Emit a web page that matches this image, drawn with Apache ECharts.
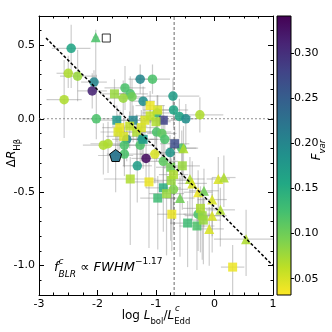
<!DOCTYPE html>
<html>
<head>
<meta charset="utf-8">
<script src="https://cdn.jsdelivr.net/npm/echarts@6/dist/echarts.min.js"></script>
<style>
  html, body { margin: 0; padding: 0; background: #fff; }
  #main { width: 332px; height: 332px; }
</style>
</head>
<body>
<div id="main"></div>
<script>
// each row: [log Lbol/LEdd, dR_Hb, Fvar, xErr, yErrDown, yErrUp]
const circlePts = [
  [-2.45, 0.48, 0.16, 0.33, 0.27, 0.16],
  [-2.50, 0.31, 0.07, 0.20, 0.10, 0.12],
  [-2.34, 0.29, 0.08, 0.30, 0.17, 0.18],
  [-2.06, 0.25, 0.20, 0.22, 0.08, 0.08],
  [-2.09, 0.19, 0.31, 0.25, 0.12, 0.12],
  [-2.57, 0.13, 0.07, 0.30, 0.26, 0.27],
  [-2.02, 0.00, 0.12, 0.25, 0.14, 0.30],
  [-1.27, 0.27, 0.20, 0.20, 0.10, 0.10],
  [-1.06, 0.27, 0.12, 0.30, 0.10, 0.10],
  [-1.53, 0.21, 0.12, 0.35, 0.15, 0.15],
  [-1.44, 0.17, 0.12, 0.30, 0.15, 0.12],
  [-1.41, 0.15, 0.10, 0.25, 0.15, 0.12],
  [-1.56, 0.14, 0.08, 0.30, 0.12, 0.12],
  [-1.22, 0.12, 0.19, 0.20, 0.12, 0.10],
  [-0.71, 0.155, 0.17, 0.45, 0.12, 0.12],
  [-0.70, 0.06, 0.16, 0.25, 0.12, 0.10],
  [-0.60, 0.016, 0.16, 0.20, 0.15, 0.12],
  [-0.49, 0.00, 0.19, 0.20, 0.18, 0.10],
  [-0.25, 0.027, 0.07, 0.40, 0.12, 0.12],
  [-0.98, 0.04, 0.13, 0.25, 0.15, 0.12],
  [-0.99, -0.09, 0.12, 0.25, 0.20, 0.12],
  [-0.90, -0.10, 0.11, 0.25, 0.20, 0.10],
  [-1.50, -0.14, 0.20, 0.25, 0.15, 0.12],
  [-1.24, -0.14, 0.18, 0.20, 0.15, 0.12],
  [-0.85, -0.14, 0.12, 0.25, 0.20, 0.12],
  [-1.90, -0.18, 0.07, 0.35, 0.20, 0.15],
  [-1.82, -0.17, 0.07, 0.30, 0.20, 0.15],
  [-1.54, -0.18, 0.12, 0.30, 0.15, 0.12],
  [-1.27, -0.18, 0.12, 0.25, 0.15, 0.12],
  [-0.76, -0.23, 0.18, 0.25, 0.20, 0.12],
  [-0.56, -0.20, 0.12, 0.25, 0.20, 0.12],
  [-1.02, -0.24, 0.05, 0.25, 0.20, 0.15],
  [-1.54, -0.24, 0.12, 0.30, 0.15, 0.12],
  [-1.17, -0.27, 0.33, 0.25, 0.20, 0.15],
  [-1.32, -0.32, 0.17, 0.25, 0.25, 0.15],
  [-0.875, -0.29, 0.11, 0.25, 0.20, 0.15],
  [-0.70, -0.48, 0.09, 0.25, 0.30, 0.15],
  [-0.28, -0.65, 0.12, 0.25, 0.25, 0.15]
];
const squarePts = [
  [-1.71, 0.17, 0.08, 0.25, 0.10, 0.10],
  [-1.10, 0.09, 0.04, 0.25, 0.12, 0.10],
  [-0.97, 0.06, 0.05, 0.25, 0.12, 0.10],
  [-1.67, -0.01, 0.18, 0.30, 0.15, 0.10],
  [-1.39, -0.01, 0.20, 0.25, 0.15, 0.10],
  [-1.19, -0.01, 0.05, 0.25, 0.15, 0.10],
  [-0.875, -0.01, 0.28, 0.25, 0.15, 0.10],
  [-1.10, 0.02, 0.06, 0.25, 0.12, 0.10],
  [-1.62, -0.06, 0.04, 0.30, 0.15, 0.12],
  [-1.65, -0.09, 0.05, 0.30, 0.20, 0.12],
  [-1.55, -0.12, 0.05, 0.30, 0.20, 0.12],
  [-1.33, -0.09, 0.07, 0.30, 0.20, 0.12],
  [-1.25, -0.06, 0.05, 0.25, 0.15, 0.12],
  [-1.22, -0.14, 0.17, 0.25, 0.20, 0.12],
  [-0.68, -0.17, 0.27, 0.25, 0.20, 0.12],
  [-1.44, -0.41, 0.07, 0.45, 0.45, 0.15],
  [-1.12, -0.43, 0.04, 0.25, 0.45, 0.15],
  [-0.875, -0.47, 0.15, 0.30, 0.30, 0.15],
  [-0.97, -0.54, 0.13, 0.30, 0.35, 0.15],
  [-0.82, -0.51, 0.08, 0.30, 0.42, 0.15],
  [-0.74, -0.42, 0.08, 0.30, 0.30, 0.15],
  [-0.73, -0.65, 0.04, 0.25, 0.25, 0.15],
  [-0.55, -0.32, 0.08, 0.30, 0.30, 0.15],
  [-0.75, -0.33, 0.10, 0.25, 0.50, 0.15],
  [-0.24, -0.61, 0.07, 0.30, 0.30, 0.15],
  [-0.21, -0.66, 0.08, 0.30, 0.30, 0.15],
  [-0.46, -0.71, 0.13, 0.30, 0.30, 0.15],
  [-0.30, -0.73, 0.12, 0.30, 0.30, 0.15],
  [-0.19, -0.69, 0.08, 0.30, 0.30, 0.15],
  [0.31, -1.01, 0.04, 0.20, 0.20, 0.15],
  [-0.70, -0.38, 0.07, 0.25, 0.30, 0.15],
  [-1.00, -0.02, 0.07, 0.25, 0.15, 0.10],
  [-1.45, -0.05, 0.06, 0.30, 0.15, 0.10]
];
const trianglePts = [
  [-2.03, 0.556, 0.12, 0.05, 0.30, 0.05],
  [-0.53, -0.20, 0.07, 0.25, 0.20, 0.15],
  [-0.42, -0.41, 0.07, 0.25, 0.25, 0.15],
  [-0.38, -0.44, 0.05, 0.25, 0.25, 0.15],
  [0.065, -0.41, 0.05, 0.20, 0.20, 0.15],
  [0.16, -0.40, 0.07, 0.20, 0.20, 0.15],
  [-0.28, -0.50, 0.04, 0.25, 0.25, 0.15],
  [-0.18, -0.49, 0.10, 0.25, 0.25, 0.15],
  [-0.04, -0.55, 0.05, 0.25, 0.25, 0.15],
  [-0.04, -0.66, 0.05, 0.25, 0.25, 0.15],
  [0.10, -0.62, 0.07, 0.25, 0.25, 0.15],
  [-0.09, -0.75, 0.05, 0.25, 0.25, 0.15],
  [0.54, -0.82, 0.07, 0.55, 0.25, 0.20],
  [-0.59, -0.54, 0.10, 0.25, 0.40, 0.15]
];
const pentagonPts = [[-1.69, -0.25, 0.22, 0.30, 0.25, 0.15]];
const openSquarePts = [[-1.85, 0.55]];

const fitLine = [[-2.88, 0.55], [1.0, -1.0]];
const xCut = -0.69;

const xRange = [-3, 1];
const yRange = [-1.2, 0.7];
const yMajor = [-1.0, -0.5, 0.0, 0.5];
const fRange = [0.032, 0.341];
const fTicks = [0.05, 0.10, 0.15, 0.20, 0.25, 0.30];

const viridisR = ['#fde725', '#bddf26', '#7ad151', '#44bf70', '#22a884', '#21918c',
  '#2a788e', '#355f8d', '#414487', '#482475', '#440154'];

const yMinor = [];
for (let i = -12; i <= 7; i++) yMinor.push(+(i / 10).toFixed(1));

const myChart = echarts.init(document.getElementById('main'));
const font = 'DejaVu Sans';
const tickLbl = { fontFamily: font, fontSize: 11, color: '#000' };

function yAx(pos, labels) {
  return [
    {
      gridIndex: 0, type: 'value', min: yRange[0], max: yRange[1], position: pos,
      axisLine: { show: true, onZero: false, lineStyle: { color: '#000', width: 1 } },
      axisTick: { inside: true, length: 5, customValues: yMajor, lineStyle: { color: '#000' } },
      axisLabel: Object.assign({ show: labels, customValues: yMajor, margin: 4,
        formatter: v => v.toFixed(1) }, tickLbl),
      splitLine: { show: false }
    },
    {
      gridIndex: 0, type: 'value', min: yRange[0], max: yRange[1], position: pos,
      axisLine: { show: false, onZero: false },
      axisTick: { inside: true, length: 2.5, customValues: yMinor, lineStyle: { color: '#000' } },
      axisLabel: { show: false },
      splitLine: { show: false }
    }
  ];
}
function xAx(pos, labels) {
  return {
    gridIndex: 0, type: 'value', min: xRange[0], max: xRange[1], interval: 1, position: pos,
    axisLine: { show: true, onZero: false, lineStyle: { color: '#000', width: 1 } },
    axisTick: { inside: true, length: 5, lineStyle: { color: '#000' } },
    minorTick: { show: true, splitNumber: 4, length: 2.5, lineStyle: { color: '#000' } },
    axisLabel: Object.assign({ show: labels, margin: 4, formatter: v => String(v) }, tickLbl),
    splitLine: { show: false }
  };
}

const allPts = circlePts.concat(squarePts, trianglePts, pentagonPts);

function errBar(params, api) {
  const x = api.value(0), y = api.value(1);
  const ex = api.value(3), eyd = api.value(4), eyu = api.value(5);
  const a = api.coord([x - ex, y]), b = api.coord([x + ex, y]);
  const c = api.coord([x, y - eyd]), d = api.coord([x, y + eyu]);
  const st = { stroke: 'rgba(130,130,130,0.4)', lineWidth: 1.2 };
  return {
    type: 'group',
    children: [
      { type: 'line', shape: { x1: a[0], y1: a[1], x2: b[0], y2: b[1] }, style: st },
      { type: 'line', shape: { x1: c[0], y1: c[1], x2: d[0], y2: d[1] }, style: st }
    ]
  };
}

const pentagon = 'path://M0,-1 L0.951,-0.309 L0.588,0.809 L-0.588,0.809 L-0.951,-0.309 Z';

const option = {
  animation: false,
  backgroundColor: '#fff',
  grid: [
    { left: 39, top: 16, width: 234, height: 279, outerBoundsMode: 'none' },
    { left: 277, top: 16, width: 14, height: 279, outerBoundsMode: 'none' }
  ],
  xAxis: [
    xAx('bottom', true),
    xAx('top', false),
    { gridIndex: 1, type: 'value', min: 0, max: 1, show: false }
  ],
  yAxis: yAx('left', true).concat(yAx('right', false), [{
    gridIndex: 1, type: 'value', min: fRange[0], max: fRange[1], position: 'right',
    axisLine: { show: false, onZero: false },
    axisTick: { inside: false, length: 3, customValues: fTicks, lineStyle: { color: '#000' } },
    axisLabel: Object.assign({ customValues: fTicks, margin: 3, formatter: v => v.toFixed(2) }, tickLbl),
    splitLine: { show: false }
  }]),
  visualMap: {
    show: false, type: 'continuous', dimension: 2, min: fRange[0], max: fRange[1],
    seriesIndex: [1, 2, 3, 4],
    inRange: { color: viridisR }
  },
  series: [
    {
      type: 'custom', xAxisIndex: 0, yAxisIndex: 0, renderItem: errBar,
      data: allPts, clip: true, z: 1, silent: true
    },
    {
      type: 'scatter', xAxisIndex: 0, yAxisIndex: 0, symbol: 'circle', symbolSize: 9.5,
      data: circlePts, itemStyle: { opacity: 0.88 }, z: 3
    },
    {
      type: 'scatter', xAxisIndex: 0, yAxisIndex: 0, symbol: 'rect', symbolSize: 9,
      data: squarePts, itemStyle: { opacity: 0.85 }, z: 3
    },
    {
      type: 'scatter', xAxisIndex: 0, yAxisIndex: 0, symbol: 'triangle', symbolSize: 10,
      data: trianglePts, itemStyle: { opacity: 0.88 }, z: 3
    },
    {
      type: 'scatter', xAxisIndex: 0, yAxisIndex: 0, symbol: pentagon, symbolSize: 12,
      data: pentagonPts, itemStyle: { opacity: 0.95, borderColor: '#000', borderWidth: 1 }, z: 4
    },
    {
      type: 'scatter', xAxisIndex: 0, yAxisIndex: 0, symbol: 'rect', symbolSize: 8,
      data: openSquarePts, itemStyle: { color: 'rgba(0,0,0,0)', borderColor: '#000', borderWidth: 1 }, z: 4
    },
    {
      type: 'line', xAxisIndex: 0, yAxisIndex: 0, symbol: 'none', silent: true, z: 5,
      data: fitLine, lineStyle: { color: '#000', width: 1.5, type: [3, 2] }
    },
    {
      type: 'line', xAxisIndex: 0, yAxisIndex: 0, symbol: 'none', silent: true, z: 2,
      data: [[xCut, yRange[0]], [xCut, yRange[1]]],
      lineStyle: { color: '#444', width: 0.8, type: [3, 2] }
    },
    {
      type: 'line', xAxisIndex: 0, yAxisIndex: 0, symbol: 'none', silent: true, z: 2,
      data: [[xRange[0], 0], [xRange[1], 0]],
      lineStyle: { color: '#777', width: 0.8, type: [2, 2] }
    }
  ],
  graphic: [
    {
      type: 'rect', z: 0, silent: true,
      shape: { x: 277, y: 16, width: 14, height: 279 },
      style: {
        fill: new echarts.graphic.LinearGradient(0, 1, 0, 0,
          viridisR.map((c, i) => ({ offset: i / (viridisR.length - 1), color: c }))),
        stroke: '#000', lineWidth: 1
      }
    },
    {
      type: 'text', x: 12, y: 153, rotation: Math.PI / 2, silent: true,
      style: {
        text: '{a|Δ}{i|R}{s|Hβ}', align: 'center', verticalAlign: 'middle',
        rich: {
          a: { fontFamily: font, fontSize: 12, lineHeight: 20, fill: '#000' },
          i: { fontFamily: font, fontStyle: 'italic', fontSize: 12, lineHeight: 20, fill: '#000' },
          s: { fontFamily: font, fontSize: 8.5, lineHeight: 12, verticalAlign: 'bottom', fill: '#000' }
        }
      }
    },
    {
      type: 'text', x: 317, y: 150, rotation: Math.PI / 2, silent: true,
      style: {
        text: '{i|F}{s|var}', align: 'center', verticalAlign: 'middle',
        rich: {
          i: { fontFamily: font, fontStyle: 'italic', fontSize: 12, lineHeight: 20, fill: '#000' },
          s: { fontFamily: font, fontStyle: 'italic', fontSize: 8.5, lineHeight: 12, verticalAlign: 'bottom', fill: '#000' }
        }
      }
    },
    {
      type: 'text', x: 156, y: 316, silent: true,
      style: {
        text: '{r|log }{i|L}{s|bol}{r|/}{i|L}{s|Edd}', align: 'center', verticalAlign: 'middle',
        rich: {
          r: { fontFamily: font, fontSize: 12, lineHeight: 20, fill: '#000' },
          i: { fontFamily: font, fontStyle: 'italic', fontSize: 12, lineHeight: 20, fill: '#000' },
          s: { fontFamily: font, fontSize: 8.5, lineHeight: 12, verticalAlign: 'bottom', fill: '#000' }
        }
      }
    },
    {
      type: 'text', x: 175, y: 309, silent: true,
      style: { text: 'c', fontFamily: font, fontStyle: 'italic', fontSize: 8.5, fill: '#000', align: 'left', verticalAlign: 'middle' }
    },
    {
      type: 'text', x: 54, y: 268, silent: true,
      style: {
        text: '{i|f}{s|BLR}{r| ∝ }{i|FWHM}{p|−1.17}', align: 'left', verticalAlign: 'middle',
        rich: {
          r: { fontFamily: font, fontSize: 13, lineHeight: 22, fill: '#000' },
          i: { fontFamily: font, fontStyle: 'italic', fontSize: 13, lineHeight: 22, fill: '#000' },
          s: { fontFamily: font, fontStyle: 'italic', fontSize: 9, lineHeight: 12, verticalAlign: 'bottom', fill: '#000' },
          p: { fontFamily: font, fontSize: 9, lineHeight: 12, verticalAlign: 'top', fill: '#000' }
        }
      }
    },
    {
      type: 'text', x: 58.5, y: 262, silent: true,
      style: { text: 'c', fontFamily: font, fontStyle: 'italic', fontSize: 9, fill: '#000', align: 'left', verticalAlign: 'middle' }
    }
  ]
};

myChart.setOption(option);
</script>
</body>
</html>
